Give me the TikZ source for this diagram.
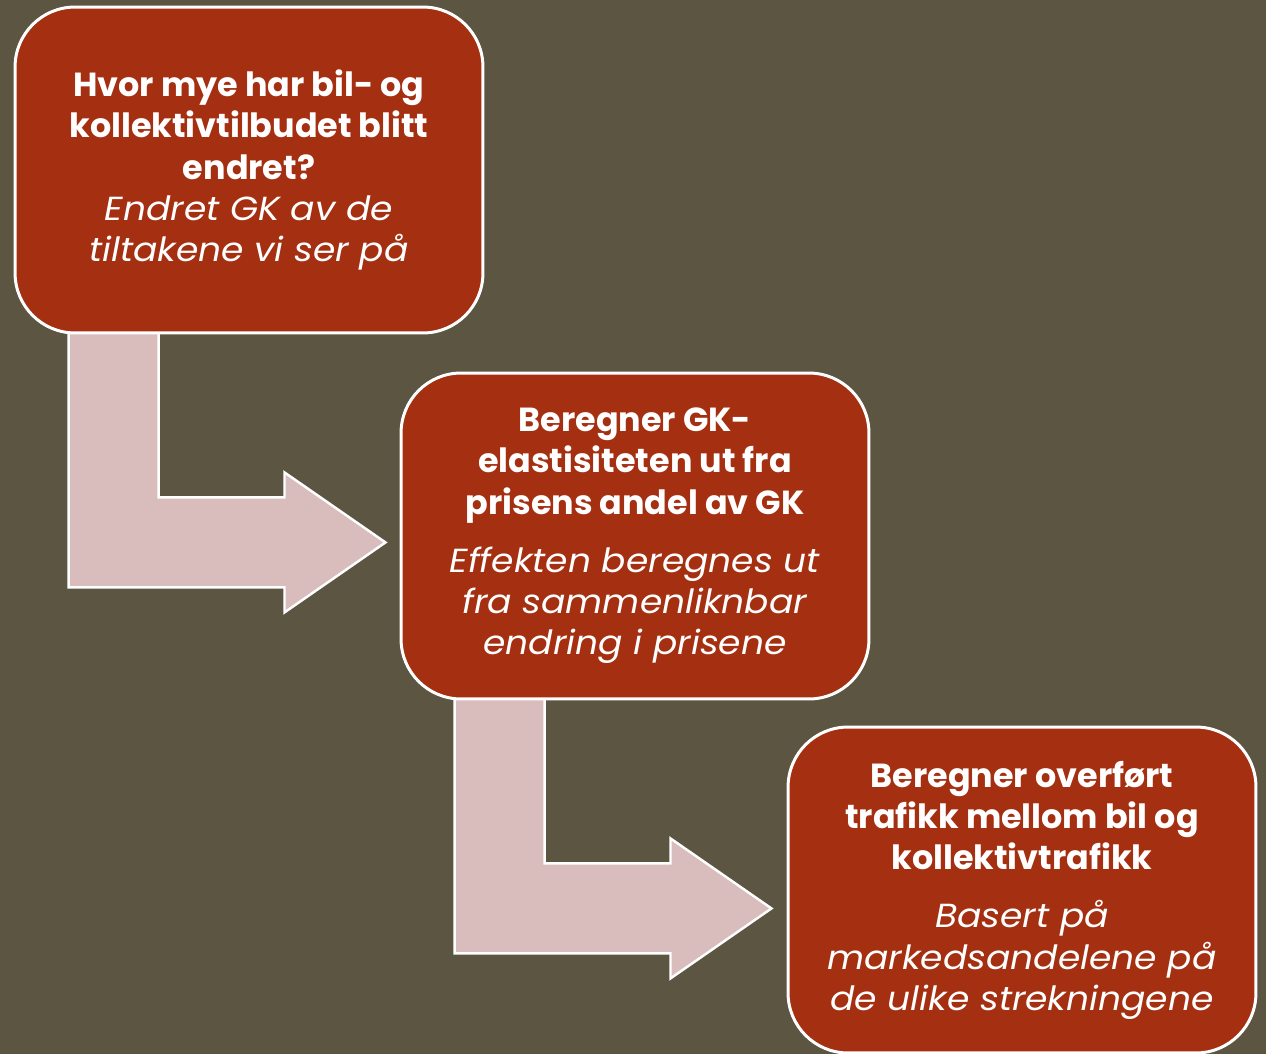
\documentclass[tikz,border=0pt]{standalone}
\usepackage{fontspec}
\setmainfont{Poppins}[ItalicFeatures={FakeStretch=1.08}]
\usetikzlibrary{calc}

\definecolor{olivebg}{RGB}{91,85,66}
\definecolor{rust}{RGB}{165,47,17}
\definecolor{pinkarrow}{RGB}{217,189,189}

\pgfdeclarelayer{bg}
\pgfdeclarelayer{arrows}
\pgfsetlayers{bg,arrows,main}

\tikzset{
  stepbox/.style={draw=white, line width=1.7pt, fill=rust, rounded corners=1.2cm,
    minimum width=9.36cm, minimum height=6.52cm, inner sep=0pt,
    text=white, align=center, font=\fontsize{19}{23.4}\selectfont},
  bentarrow/.style={draw=white, line width=1.4pt, fill=pinkarrow}
}

\begin{document}
\begin{tikzpicture}[x=0.02cm, y=-0.02cm]

  \begin{pgfonlayer}{bg}
    \fill[olivebg] (0,0) rectangle (1266,1054);
  \end{pgfonlayer}
  \useasboundingbox (0,0) rectangle (1266,1054);

  % the three steps
  \node[stepbox] (b1) at (249,170) {
    \textbf{Hvor mye har bil- og}\\
    \textbf{kollektivtilbudet blitt}\\
    \textbf{endret?}\\
    \textit{Endret GK av de}\\
    \textit{tiltakene vi ser på}};
  \node[stepbox] (b2) at (635,536) {
    \textbf{Beregner GK-}\\
    \textbf{elastisiteten ut fra}\\
    \textbf{prisens andel av GK}\\[10pt]
    \textit{Effekten beregnes ut}\\
    \textit{fra sammenliknbar}\\
    \textit{endring i prisene}};
  \node[stepbox] (b3) at (1022,890) {
    \textbf{Beregner overført}\\
    \textbf{trafikk mellom bil og}\\
    \textbf{kollektivtrafikk}\\[10pt]
    \textit{Basert på}\\
    \textit{markedsandelene på}\\
    \textit{de ulike strekningene}};

  % bent arrows between the steps
  \begin{pgfonlayer}{arrows}
  \foreach \a/\b in {b1/b2, b2/b3} {
    \draw[bentarrow] let \p1 = (\a.south west) in
      (\x1+1.1cm, \y1+0.1cm) -- (\x1+2.9cm, \y1+0.1cm)
      -- (\x1+2.9cm, \y1-3.26cm) -- (\x1+5.42cm, \y1-3.26cm)
      -- (\x1+5.42cm, \y1-2.76cm) -- (\x1+7.44cm, \y1-4.16cm)
      -- (\x1+5.42cm, \y1-5.56cm) -- (\x1+5.42cm, \y1-5.06cm)
      -- (\x1+1.1cm, \y1-5.06cm) -- cycle;
  }
  \end{pgfonlayer}

\end{tikzpicture}
\end{document}
